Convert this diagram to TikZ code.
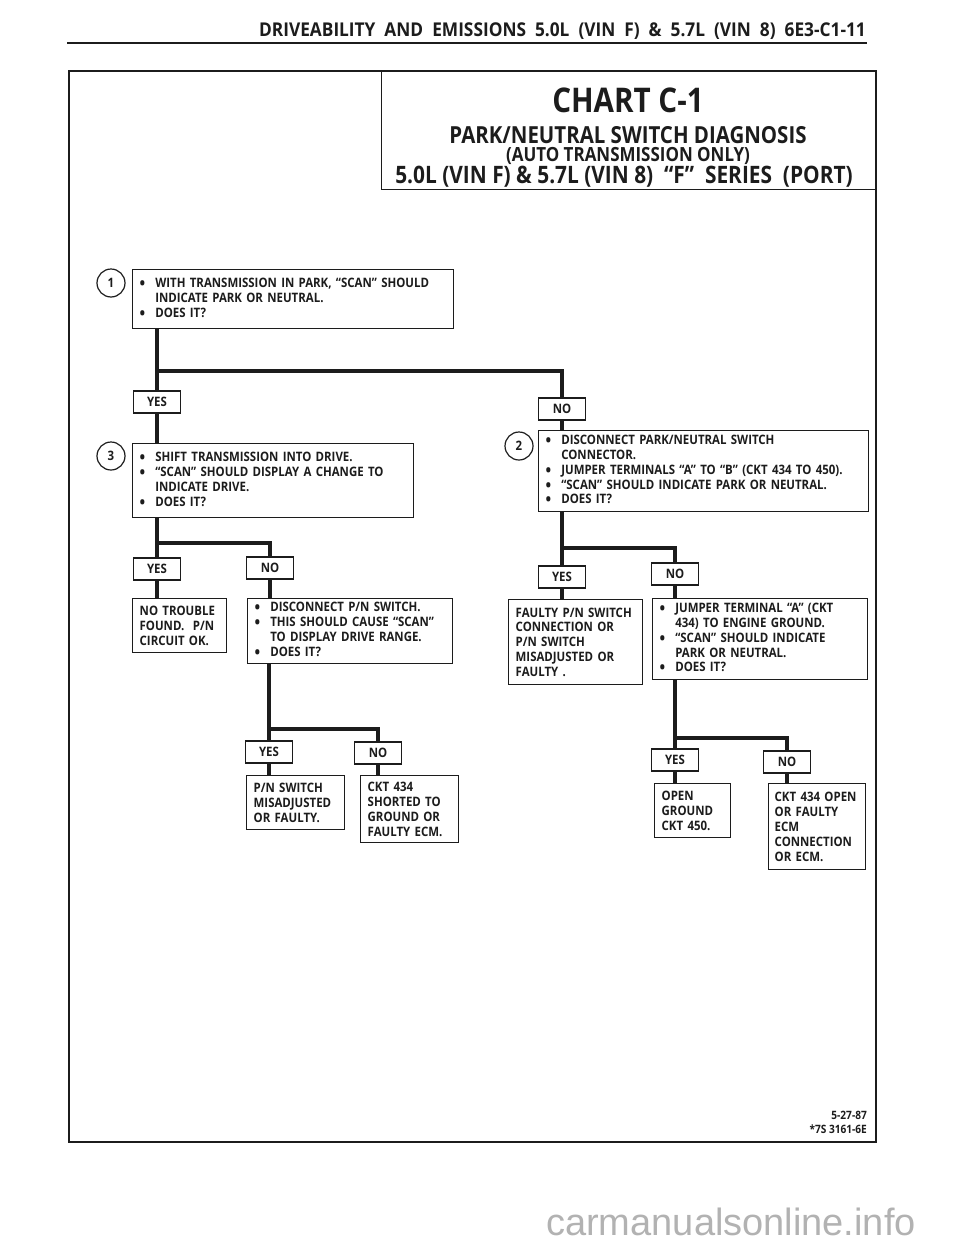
\documentclass[tikz,border=0pt]{standalone}
\usepackage{fontspec}
\setmainfont{Open Sans}
\newfontfamily\bodyfam[FakeStretch=0.88]{Open Sans}
\newfontfamily\condfont[FakeStretch=0.87]{Open Sans}
\newfontfamily\headfont[FakeStretch=0.91,WordSpace=2]{Open Sans}
\newfontfamily\markfont{Liberation Sans}
\usetikzlibrary{positioning,calc}
\definecolor{ink}{RGB}{28,28,28}
\definecolor{mark}{RGB}{178,178,178}
\def\boxrule{1.4pt}
\def\flowrule{3.6pt}
\def\framerule{2.6pt}
\newcommand{\bodyfont}{\bodyfam\fontsize{13}{14.9}\selectfont\bfseries}
\newcommand{\blt}{\raisebox{-2pt}{\fontsize{17}{14.9}\selectfont\textbullet}}
\newcommand{\bullets}[1]{\begin{tabular}{@{}l@{\hspace{10pt}}l@{}}#1\end{tabular}}
\tikzset{
  stepbox/.style={draw=ink,line width=\boxrule,anchor=north west,align=left,
    inner xsep=7pt,inner ysep=0pt,font=\bodyfont,text=ink},
  answer/.style={draw=ink,line width=\boxrule,minimum width=47pt,minimum height=22pt,
    inner sep=0pt,font=\bodyfont,text=ink},
  flow/.style={draw=ink,line width=\flowrule},
  stepnum/.style={draw=ink,circle,line width=1.2pt,minimum size=28pt,inner sep=0pt,
    font=\bodyfont,text=ink}
}
\begin{document}
\begin{tikzpicture}[x=1pt,y=-1pt]
  \useasboundingbox (0,0) rectangle (960,1242);
  %% page head
  \node[anchor=base east,inner sep=0pt,text=ink,font=\headfont\fontsize{19}{22}\selectfont\bfseries] (head) at (866,36)
    {DRIVEABILITY AND EMISSIONS 5.0L (VIN F) \& 5.7L (VIN 8) 6E3-C1-11};
  \draw[ink,line width=2.4pt] (67,43) -- (867,43);
  \draw[ink,line width=\framerule] (69,71) rectangle (876,1142);

  %% title block
  \node[draw=ink,line width=1.4pt,anchor=north west,minimum width=495pt,minimum height=118pt,inner sep=0pt] (titlebox) at (381,71) {};
  \node[text=ink,font=\condfont\fontsize{34}{36}\selectfont\bfseries] (chart) at (628,100) {CHART C-1};
  \node[text=ink,font=\condfont\fontsize{23.5}{26}\selectfont\bfseries] (topic) at (628,135) {PARK/NEUTRAL SWITCH DIAGNOSIS};
  \node[text=ink,font=\condfont\fontsize{19.5}{22}\selectfont\bfseries] (scope) at (628,156) {(AUTO TRANSMISSION ONLY)};
  \node[text=ink,font=\condfont\fontsize{24}{27}\selectfont\bfseries] (engine) at (624,177) {5.0L (VIN F) \& 5.7L (VIN 8) \ “F” \ SERIES \ (PORT)};

  %% step 1
  \node[stepbox,text width=307pt,minimum height=59pt] (ask1) at (132,269)
    {\bullets{\blt & WITH TRANSMISSION IN PARK, “SCAN” SHOULD\\ & INDICATE PARK OR NEUTRAL.\\ \blt & DOES IT?}};
  \node[stepnum] (num1) at (111,283) {1};
  \node[answer] (yes1) at (157,402) {YES};
  \node[answer] (no1) at (562,409) {NO};

  %% step 3
  \node[stepbox,text width=267pt,minimum height=74pt] (ask3) at (132,443)
    {\bullets{\blt & SHIFT TRANSMISSION INTO DRIVE.\\ \blt & “SCAN” SHOULD DISPLAY A CHANGE TO\\ & INDICATE DRIVE.\\ \blt & DOES IT?}};
  \node[stepnum] (num3) at (111,456) {3};

  %% step 2
  \node[stepbox,text width=316pt,minimum height=81pt] (ask2) at (538,430)
    {\bullets{\blt & DISCONNECT PARK/NEUTRAL SWITCH\\ & CONNECTOR.\\ \blt & JUMPER TERMINALS “A” TO “B” (CKT 434 TO 450).\\ \blt & “SCAN” SHOULD INDICATE PARK OR NEUTRAL.\\ \blt & DOES IT?}};
  \node[stepnum] (num2) at (519,446) {2};

  %% second row
  \node[answer] (yes3) at (157,569) {YES};
  \node[answer] (no3) at (270,568) {NO};
  \node[answer] (yes2) at (562,577) {YES};
  \node[answer] (no2) at (675,574) {NO};
  \node[stepbox,text width=80pt,minimum height=54pt] (okfound) at (132,598)
    {NO TROUBLE\\ FOUND. \ P/N\\ CIRCUIT OK.};
  \node[stepbox,text width=191pt,minimum height=65pt] (ask4) at (247,598)
    {\bullets{\blt & DISCONNECT P/N SWITCH.\\ \blt & THIS SHOULD CAUSE “SCAN”\\ & TO DISPLAY DRIVE RANGE.\\ \blt & DOES IT?}};
  \node[stepbox,text width=120pt,minimum height=85pt] (faulty) at (508,599)
    {FAULTY P/N SWITCH\\ CONNECTION OR\\ P/N SWITCH\\ MISADJUSTED OR\\ FAULTY .};
  \node[stepbox,text width=201pt,minimum height=81pt] (ask5) at (652,598)
    {\bullets{\blt & JUMPER TERMINAL “A” (CKT\\ & 434) TO ENGINE GROUND.\\ \blt & “SCAN” SHOULD INDICATE\\ & PARK OR NEUTRAL.\\ \blt & DOES IT?}};

  %% third row
  \node[answer] (yes4) at (269,752) {YES};
  \node[answer] (no4) at (378,753) {NO};
  \node[answer] (yes5) at (675,760) {YES};
  \node[answer] (no5) at (787,762) {NO};
  \node[stepbox,text width=84pt,minimum height=54pt] (pnsw) at (246,775)
    {P/N SWITCH\\ MISADJUSTED\\ OR FAULTY.};
  \node[stepbox,text width=84pt,minimum height=67pt] (shorted) at (360,775)
    {CKT 434\\ SHORTED TO\\ GROUND OR\\ FAULTY ECM.};
  \node[stepbox,text width=62pt,minimum height=54pt] (openg) at (654,783)
    {OPEN\\ GROUND\\ CKT 450.};
  \node[stepbox,inner xsep=6pt,text width=85pt,minimum height=86pt] (ecmopen) at (768,783)
    {CKT 434 OPEN\\ OR FAULTY\\ ECM\\ CONNECTION\\ OR ECM.};

  %% forks
  \coordinate (fork1) at (0,371);
  \coordinate (fork3) at (0,543);
  \coordinate (fork2) at (0,548);
  \coordinate (fork4) at (0,729);
  \coordinate (fork5) at (0,738);
  \foreach \q/\y/\n/\f/\ya/\na in {ask1/yes1/no1/fork1/ask3/ask2, ask3/yes3/no3/fork3/okfound/ask4,
      ask2/yes2/no2/fork2/faulty/ask5, ask4/yes4/no4/fork4/pnsw/shorted, ask5/yes5/no5/fork5/openg/ecmopen} {
    \draw[flow] (\q.south -| \y) -- (\y.north);
    \draw[flow] (\f -| \y) -| (\n.north);
    \draw[flow] (\y.south) -- (\y |- \ya.north);
    \draw[flow] (\n.south) -- (\n |- \na.north);
  }

  %% footer
  \node[anchor=east,inner sep=0pt,text=ink,font=\bodyfam\fontsize{11.5}{13}\selectfont\bfseries] (date) at (867,1115) {5-27-87};
  \node[anchor=east,inner sep=0pt,text=ink,font=\bodyfam\fontsize{11.5}{13}\selectfont\bfseries] (partno) at (867,1129) {*7S 3161-6E};
  \node[anchor=west,inner sep=0pt,text=mark,font=\markfont\fontsize{38}{40}\selectfont] (site) at (546,1222) {carmanualsonline.info};
\end{tikzpicture}
\end{document}
